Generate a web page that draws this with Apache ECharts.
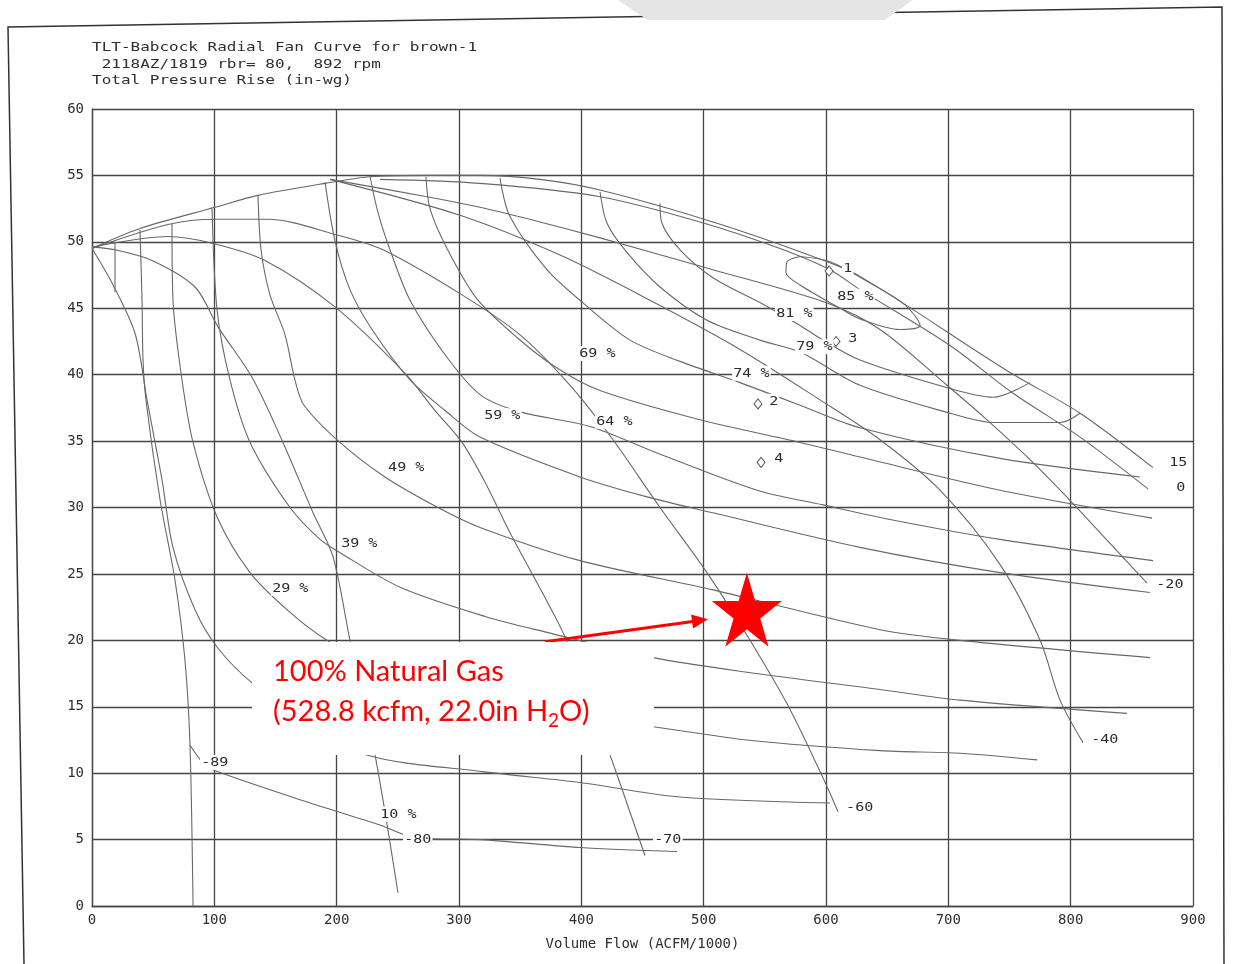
<!DOCTYPE html>
<html><head><meta charset="utf-8">
<script src="https://cdn.jsdelivr.net/npm/echarts@6/dist/echarts.min.js"></script>
<style>html,body{margin:0;padding:0;background:#fff;}#c{width:1235px;height:964px;}</style>
</head><body><div id="c"></div>
<script>
// ---- axis ticks ----
const xTickValues = [0,100,200,300,400,500,600,700,800,900];
const xTickLabels = ['0','100','200','300','400','500','600','700','800','900'];
const yTickValues = [0,5,10,15,20,25,30,35,40,45,50,55,60];
const yTickLabels = ['0','5','10','15','20','25','30','35','40','45','50','55','60'];

// ---- vane curves [flow kcfm, pressure in-wg] ----
const vane15 = [[0,49.5],[39.2,51.0],[100.5,52.6],[135.7,53.5],[190.5,54.4],[227.3,54.9],[276.3,55.0],[317.2,55.0],[366.2,54.7],[415.3,53.9],[507.6,51.5],[589.4,48.9],[627.8,47.4],[748.0,40.3],[807.7,37.1],[867.3,33.0]];
const vane0 = [[235.4,54.7],[317.2,54.4],[415.3,53.4],[497.0,51.5],[562.4,49.5],[603.3,47.9],[627.8,46.4],[701.4,42.2],[752.9,38.6],[807.7,35.3],[863.2,31.4]];
const vaneM20 = [[194.6,54.7],[273.9,53.4],[317.2,52.6],[366.2,51.5],[415.3,50.3],[507.6,47.9],[600.8,45.4],[644.2,43.4],[698.9,39.2],[731.6,36.6],[766.8,33.6],[801.9,30.3],[832.2,27.3],[862.4,24.3]];
const vaneM40 = [[194.6,54.7],[300.8,52.0],[382.6,49.0],[456.1,45.6],[529.7,41.9],[595.1,38.1],[644.2,35.1],[693.2,31.3],[742.3,25.7],[775.0,20.0],[791.3,15.5],[810.1,12.3]];
const vaneM60 = [[0,49.5],[62.1,51.3],[100.5,51.7],[143.9,51.7],[201.1,50.5],[237.9,49.4],[300.8,46.1],[349.9,43.0],[390.8,39.2],[425.9,35.1],[464.3,30.0],[502.7,25.1],[537.9,20.0],[570.6,14.8],[600.8,9.0],[609.8,7.1]];
const vaneM70 = [[0,49.6],[62.1,50.4],[98.1,49.9],[141.4,48.6],[198.6,45.1],[255.9,40.1],[280.4,37.3],[302.5,34.9],[321.3,31.9],[341.7,28.1],[385.0,20.6],[407.1,15.5],[423.4,11.4],[452.0,3.8]];
const vaneM80 = [[0,49.6],[18.8,49.4],[49.0,48.6],[84.2,46.6],[103.0,43.6],[130.8,39.8],[156.1,34.9],[180.7,29.6],[197.0,26.3],[210.9,20.0],[231.3,11.4],[250.1,1.0]];
const vaneM89 = [[39.2,50.9],[40.9,45.6],[41.7,41.1],[44.1,38.1],[55.6,30.6],[67.9,24.5],[76.0,18.5],[80.1,12.1],[82.6,0]];
const vaneStub = [[18.8,50.0],[18.8,46.2]];

// ---- efficiency contours ----
const eff10 = [[80.1,12.1],[92.4,10.6],[103.0,10.1],[170.0,8.0],[235.4,6.1],[266.5,5.1],[317.2,5.0],[398.9,4.4],[478.2,4.1]];
const effLow = [[0,49.5],[16.4,46.9],[35.2,43.1],[45.0,38.1],[57.2,32.1],[66.2,27.0],[84.2,22.3],[102.2,19.5],[130.8,16.8],[170.0,14.4],[223.2,11.4],[321.3,10.1],[398.9,9.3],[480.7,8.2],[603.3,7.75]];
const eff29 = [[65.4,51.4],[66.2,45.6],[73.6,39.6],[82.6,34.9],[102.2,29.3],[129.2,25.1],[161.9,22.1],[192.1,20.0],[251.8,17.0],[333.5,15.1],[458.6,13.5],[535.4,12.5],[644.2,11.7],[709.6,11.5],[772.5,11.0]];
const eff39 = [[98.1,52.6],[102.2,44.9],[112.8,39.6],[129.2,34.9],[161.9,30.0],[186.4,27.6],[202.7,26.6],[251.8,24.0],[321.3,21.8],[371.9,20.6],[458.6,18.7],[535.4,17.6],[644.2,16.3],[709.6,15.5],[846.1,14.5]];
const eff49 = [[135.7,53.5],[138.2,49.4],[145.5,46.0],[157.8,43.0],[165.9,39.6],[173.3,37.7],[202.7,34.9],[239.5,32.3],[282.8,30.0],[317.2,28.5],[398.9,26.0],[507.6,23.8],[644.2,20.8],[709.6,20.0],[864.9,18.7]];
const eff59 = [[190.5,54.5],[198.6,50.1],[210.9,46.4],[228.9,43.4],[260.0,39.6],[288.6,37.3],[317.2,35.3],[398.9,32.3],[453.7,30.8],[507.6,29.6],[627.8,27.0],[742.3,25.1],[864.9,23.6]];
const eff64 = [[227.3,54.9],[233.8,52.2],[243.6,49.4],[260.0,45.6],[288.6,41.5],[317.2,38.5],[349.9,37.2],[407.1,36.1],[461.9,34.1],[543.6,31.3],[597.6,30.2],[652.3,29.1],[742.3,27.6],[867.3,26.0]];
const eff69 = [[273.0,54.9],[276.3,52.5],[290.2,49.5],[314.7,45.7],[347.4,42.8],[380.1,40.5],[415.3,38.8],[497.0,36.6],[578.8,34.9],[627.8,33.8],[742.3,31.3],[866.5,29.2]];
const eff74 = [[333.5,54.8],[341.7,51.9],[371.9,47.9],[401.4,45.4],[439.8,42.6],[480.7,41.0],[529.7,39.4],[578.8,37.7],[627.8,36.0],[742.3,33.7],[856.7,32.3]];
const eff79 = [[415.3,53.75],[421.0,51.4],[437.3,49.2],[464.3,46.6],[502.7,44.1],[546.1,42.6],[578.8,41.7],[627.8,39.2],[701.4,37.1],[736.5,36.4],[791.3,36.4],[807.7,37.1]];
const eff81 = [[464.3,52.9],[465.9,51.4],[480.7,49.4],[507.6,47.3],[548.5,45.3],[578.8,43.7],[597.6,42.6],[627.8,41.1],[699.8,39.0],[736.5,38.3],[766.8,39.4]];
const eff85 = [[578.8,48.9],[603.3,48.5],[636.0,46.9],[664.6,45.25],[676.9,43.7],[660.5,43.4],[627.8,44.2],[611.5,45.0],[578.8,46.75],[567.3,47.7],[568.1,48.5],[578.8,48.9]];

// ---- labels ----
const curveLabelTexts = ['85 %','81 %','79 %','74 %','69 %','64 %','59 %','49 %','39 %','29 %','10 %','15','0','-20','-40','-60','-70','-80','-89','1','2','3','4'];
const curveLabelX = [608.2,558.3,574.7,523.2,397.3,411.2,319.6,241.1,202.7,146.3,234.6,879.6,885.3,869.0,815.8,615.5,458.6,254.2,88.3,613.1,552.6,617.2,556.7];
const curveLabelY = [45.9,44.6,42.1,40.1,41.6,36.5,36.9,33.0,27.3,23.9,6.9,33.4,31.5,24.2,12.5,7.4,5.0,5.0,10.8,48.0,38.0,42.7,33.7];

// ---- test points ----
const pointX = [602.5,544.4,608.2,546.9];
const pointY = [47.8,37.8,42.5,33.4];

// ---- design point ----
const designPoint = [528.8, 22.0];
const arrowFrom = [370.3, 19.9];
const arrowTo = [497.0, 21.5];

const LINE = '#686868';
const GRID = '#454545';
const MONO = '"DejaVu Sans Mono", "Liberation Mono", monospace';

function curve(name, data){
  return {name, type:'line', data, smooth:0.3, showSymbol:false, symbol:'none',
    lineStyle:{color:LINE, width:1.1}, silent:true, z:3, animation:false};
}

const curves = [
  curve('15', vane15), curve('0', vane0), curve('-20', vaneM20), curve('-40', vaneM40),
  curve('-60', vaneM60), curve('-70', vaneM70), curve('-80', vaneM80), curve('-89', vaneM89), curve('stub', vaneStub),
  curve('e10', eff10), curve('eLow', effLow), curve('e29', eff29), curve('e39', eff39), curve('e49', eff49),
  curve('e59', eff59), curve('e64', eff64), curve('e69', eff69), curve('e74', eff74), curve('e79', eff79),
  curve('e81', eff81), curve('e85', eff85)
];

const STAR = 'path://M50,0 L61.23,34.55 L97.55,34.55 L68.17,55.9 L79.39,90.45 L50,69.1 L20.61,90.45 L31.83,55.9 L2.45,34.55 L38.77,34.55 Z';

const chart = echarts.init(document.getElementById('c'), null, {renderer:'canvas'});
chart.setOption({
  backgroundColor:'#fff',
  animation:false,
  grid:{left:92, right:42, top:109, bottom:58, containLabel:false},
  xAxis:{type:'value', min:0, max:900, interval:100,
    name:'Volume Flow (ACFM/1000)', nameLocation:'middle', nameGap:31,
    nameTextStyle:{fontFamily:MONO, fontSize:14, color:'#2e2e2e'},
    axisLine:{show:true, lineStyle:{color:GRID, width:1.3}}, axisTick:{show:false},
    axisLabel:{margin:7, fontFamily:MONO, fontSize:14, color:'#2e2e2e',
      formatter:v=>{const i=xTickValues.indexOf(v); return i<0?'':xTickLabels[i];}},
    splitLine:{show:true, lineStyle:{color:GRID, width:1.3}}},
  yAxis:{type:'value', min:0, max:60, interval:5,
    axisLine:{show:true, lineStyle:{color:GRID, width:1.3}}, axisTick:{show:false},
    axisLabel:{margin:8, fontFamily:MONO, fontSize:14, color:'#2e2e2e',
      formatter:v=>{const i=yTickValues.indexOf(v); return i<0?'':yTickLabels[i];}},
    splitLine:{show:true, lineStyle:{color:GRID, width:1.3}}},
  series:[
    ...curves,
    {type:'scatter', name:'points', data:pointX.map((x,i)=>[x,pointY[i]]), symbol:'diamond', symbolSize:[8,10],
      itemStyle:{color:'#fff', borderColor:'#555', borderWidth:1, opacity:1}, z:6, silent:true},
    {type:'custom', name:'labels', data:curveLabelX.map((x,i)=>[x,curveLabelY[i]]), z:8, silent:true,
      encode:{x:0,y:1},
      renderItem:(params, api)=>{
        const p = api.coord([api.value(0), api.value(1)]);
        return {type:'text', x:p[0], y:p[1], scaleX:1.16,
          style:{text:curveLabelTexts[params.dataIndex], font:'13px '+MONO, fill:'#2a2a2a',
            align:'left', verticalAlign:'middle', backgroundColor:'#fff', padding:[1,1,1,1]}};
      }},
    {type:'scatter', name:'design', data:[designPoint], symbol:STAR, symbolSize:[70,74], symbolOffset:[8,-4],
      itemStyle:{color:'#ff0000', opacity:1}, z:60, silent:true,
      markLine:{silent:true, symbol:['none','triangle'], symbolSize:[14,16],
        lineStyle:{color:'#ff0000', width:3, type:'solid', opacity:1}, label:{show:false},
        data:[[{coord:arrowFrom},{coord:arrowTo}]]}}
  ],
  graphic:[
    {type:'polyline', z:1, shape:{points:[[24,964],[8,27],[1222,7],[1224,964]]}, style:{stroke:'#333', lineWidth:1.5, fill:null}},
    {type:'polygon', z:1, shape:{points:[[618,0],[912,0],[896,12],[884,20],[648,20],[634,11]]}, style:{fill:'#e4e4e4'}},
    {type:'text', x:92, y:48, scaleX:1.23, z:10, style:{text:'TLT-Babcock Radial Fan Curve for brown-1', font:'13px '+MONO, fill:'#2e2e2e', align:'left', verticalAlign:'middle'}},
    {type:'text', x:92, y:65, scaleX:1.23, z:10, style:{text:' 2118AZ/1819 rbr= 80,  892 rpm', font:'13px '+MONO, fill:'#2e2e2e', align:'left', verticalAlign:'middle'}},
    {type:'text', x:92, y:81, scaleX:1.23, z:10, style:{text:'Total Pressure Rise (in-wg)', font:'13px '+MONO, fill:'#2e2e2e', align:'left', verticalAlign:'middle'}},
    {type:'rect', z:50, shape:{x:252, y:642, width:402, height:113}, style:{fill:'#fff'}},
    {type:'text', x:273, y:672, z:51, style:{text:'100% Natural Gas', font:'29px Lato', fill:'#ff0000', align:'left', verticalAlign:'middle'}},
    {type:'text', x:273, y:712, z:51, style:{text:'{m|(528.8 kcfm, 22.0in H}{s|2}{m|O)}', align:'left', verticalAlign:'middle',
      rich:{m:{font:'29px Lato', fill:'#ff0000', lineHeight:36}, s:{font:'19px Lato', fill:'#ff0000', lineHeight:36, verticalAlign:'bottom'}}}}
  ]
});
</script></body></html>
